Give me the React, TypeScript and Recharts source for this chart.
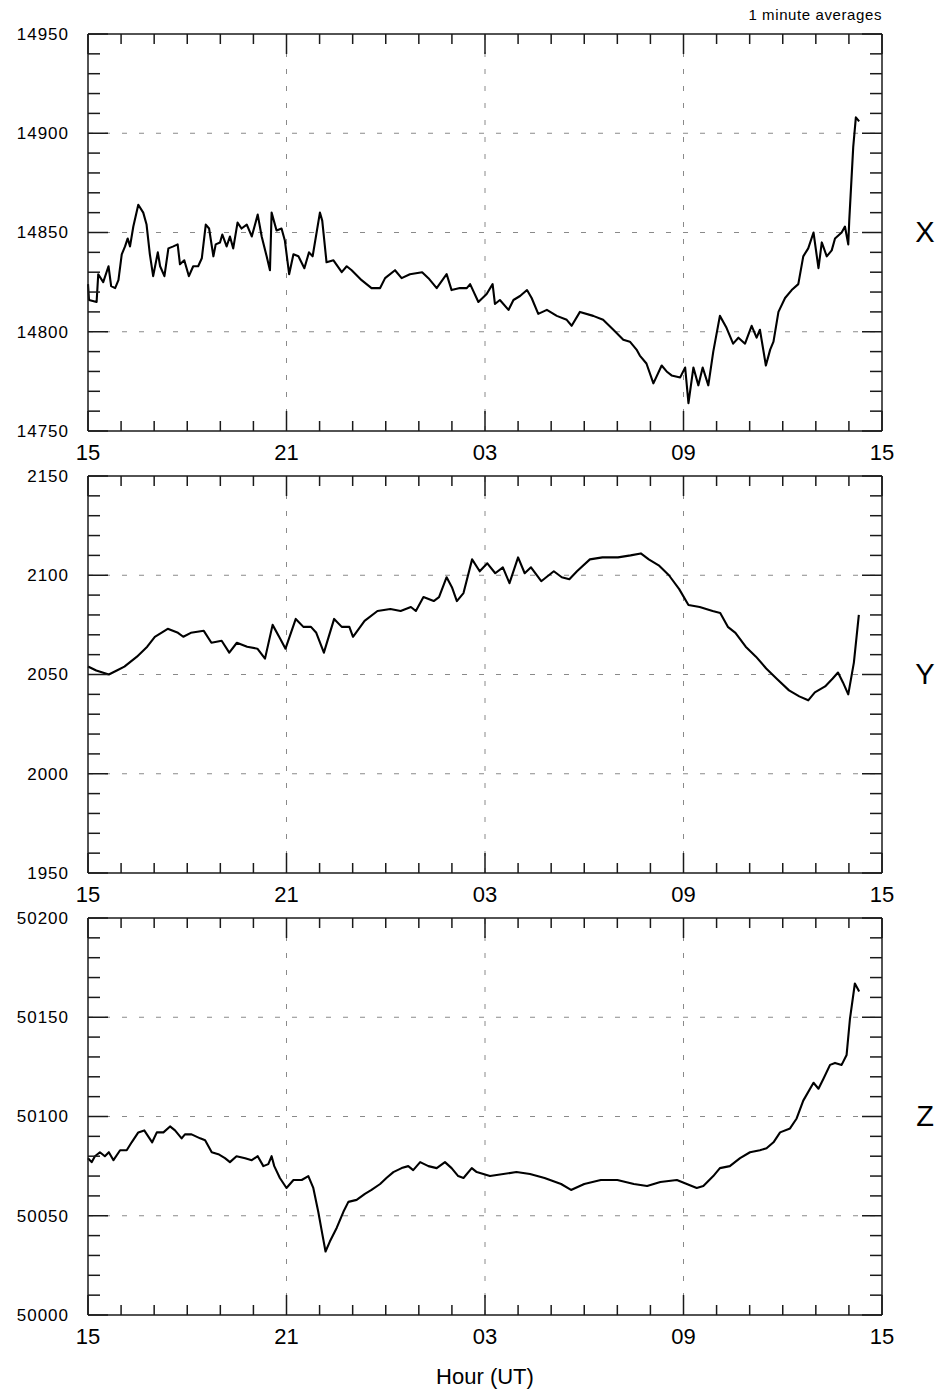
import { LineChart, Line, XAxis, YAxis, ReferenceLine } from 'recharts'

// [hour since 15 UT, nT]
const xTrace: [number, number][] = [
  [0, 14824], [0.03, 14816], [0.26, 14815], [0.31, 14829], [0.46, 14825], [0.62, 14833],
  [0.7, 14823], [0.82, 14822], [0.92, 14826], [1.02, 14839], [1.12, 14843], [1.2, 14847],
  [1.27, 14843], [1.37, 14853], [1.52, 14864], [1.67, 14860], [1.77, 14854], [1.87, 14839],
  [1.97, 14828], [2.11, 14840], [2.18, 14833], [2.31, 14828], [2.43, 14842], [2.58, 14843],
  [2.71, 14844], [2.78, 14834], [2.91, 14836], [3.05, 14828], [3.18, 14833], [3.33, 14833],
  [3.44, 14837], [3.56, 14854], [3.66, 14852], [3.79, 14838], [3.86, 14844], [3.99, 14845],
  [4.06, 14849], [4.19, 14843], [4.29, 14848], [4.39, 14842], [4.52, 14855], [4.64, 14852],
  [4.8, 14854], [4.95, 14848], [5.13, 14859], [5.25, 14848], [5.4, 14838], [5.5, 14831],
  [5.55, 14860], [5.7, 14851], [5.85, 14852], [5.95, 14846], [6.08, 14829], [6.21, 14839],
  [6.36, 14838], [6.54, 14832], [6.68, 14840], [6.79, 14838], [7.01, 14860], [7.08, 14856],
  [7.21, 14835], [7.42, 14836], [7.67, 14830], [7.82, 14833], [7.97, 14831], [8.27, 14826],
  [8.57, 14822], [8.83, 14822], [8.98, 14827], [9.28, 14831], [9.48, 14827], [9.73, 14829],
  [10.1, 14830], [10.29, 14827], [10.54, 14822], [10.84, 14829], [10.99, 14821], [11.24, 14822],
  [11.45, 14822], [11.55, 14824], [11.8, 14815], [12.05, 14819], [12.23, 14824], [12.3, 14814],
  [12.45, 14816], [12.71, 14811], [12.86, 14816], [13.06, 14818], [13.27, 14821], [13.41, 14817],
  [13.61, 14809], [13.87, 14811], [14.17, 14808], [14.47, 14806], [14.62, 14803], [14.87, 14810],
  [15.27, 14808], [15.57, 14806], [15.88, 14801], [16.18, 14796], [16.38, 14795], [16.58, 14791],
  [16.68, 14788], [16.88, 14784], [17.09, 14774], [17.34, 14783], [17.49, 14780], [17.64, 14778],
  [17.9, 14777], [18.05, 14782], [18.15, 14764], [18.3, 14782], [18.45, 14773], [18.58, 14782],
  [18.75, 14773], [18.9, 14790], [19.1, 14808], [19.3, 14802], [19.5, 14794], [19.66, 14797],
  [19.86, 14794], [20.06, 14803], [20.21, 14797], [20.31, 14801], [20.49, 14783], [20.62, 14791],
  [20.72, 14795], [20.87, 14810], [21.07, 14817], [21.27, 14821], [21.47, 14824], [21.62, 14838],
  [21.77, 14842], [21.93, 14850], [22.08, 14832], [22.18, 14845], [22.33, 14838], [22.48, 14841],
  [22.58, 14847], [22.78, 14850], [22.88, 14853], [22.98, 14844], [23.01, 14856], [23.13, 14893],
  [23.21, 14908], [23.31, 14906],
]

const yTrace: [number, number][] = [
  [0, 2054], [0.25, 2052], [0.63, 2050], [0.87, 2052], [1.1, 2054], [1.48, 2059], [1.79, 2064],
  [2.02, 2069], [2.41, 2073], [2.72, 2071], [2.88, 2069], [3.11, 2071], [3.5, 2072], [3.73, 2066],
  [4.04, 2067], [4.27, 2061], [4.5, 2066], [4.81, 2064], [5.12, 2063], [5.35, 2058], [5.58, 2075],
  [5.81, 2068], [5.97, 2063], [6.28, 2078], [6.51, 2074], [6.74, 2074], [6.9, 2071], [7.13, 2061],
  [7.44, 2078], [7.67, 2074], [7.9, 2074], [8.01, 2069], [8.36, 2077], [8.75, 2082], [9.14, 2083],
  [9.45, 2082], [9.76, 2084], [9.91, 2082], [10.14, 2089], [10.45, 2087], [10.61, 2089],
  [10.84, 2099], [11.0, 2094], [11.15, 2087], [11.35, 2091], [11.61, 2108], [11.84, 2102],
  [12.07, 2106], [12.31, 2101], [12.54, 2104], [12.74, 2096], [13.0, 2109], [13.2, 2101],
  [13.39, 2104], [13.7, 2097], [14.08, 2102], [14.32, 2099], [14.55, 2098], [14.78, 2102],
  [15.17, 2108], [15.55, 2109], [16.02, 2109], [16.4, 2110], [16.71, 2111], [16.95, 2108],
  [17.25, 2105], [17.56, 2100], [17.87, 2093], [18.15, 2085], [18.49, 2084], [18.88, 2082],
  [19.11, 2081], [19.34, 2074], [19.57, 2071], [19.88, 2064], [20.19, 2059], [20.5, 2053],
  [20.81, 2048], [21.19, 2042], [21.5, 2039], [21.77, 2037], [21.97, 2041], [22.28, 2044],
  [22.51, 2048], [22.67, 2051], [22.82, 2046], [22.98, 2040], [23.15, 2056], [23.3, 2080],
]

const zTrace: [number, number][] = [
  [0, 50079], [0.11, 50077], [0.21, 50080], [0.36, 50082], [0.51, 50080], [0.63, 50082],
  [0.77, 50078], [0.97, 50083], [1.17, 50083], [1.32, 50087], [1.52, 50092], [1.7, 50093],
  [1.82, 50090], [1.94, 50087], [2.08, 50092], [2.28, 50092], [2.48, 50095], [2.63, 50093],
  [2.83, 50089], [2.93, 50091], [3.13, 50091], [3.39, 50089], [3.54, 50088], [3.74, 50082],
  [3.94, 50081], [4.14, 50079], [4.29, 50077], [4.49, 50080], [4.75, 50079], [4.95, 50078],
  [5.13, 50080], [5.3, 50075], [5.45, 50076], [5.55, 50080], [5.63, 50075], [5.8, 50069],
  [6.0, 50064], [6.21, 50068], [6.46, 50068], [6.66, 50070], [6.81, 50064], [6.96, 50052],
  [7.08, 50041], [7.18, 50032], [7.31, 50037], [7.52, 50044], [7.72, 50052], [7.87, 50057],
  [8.12, 50058], [8.37, 50061], [8.57, 50063], [8.83, 50066], [9.02, 50069], [9.23, 50072],
  [9.48, 50074], [9.68, 50075], [9.83, 50073], [10.04, 50077], [10.29, 50075], [10.54, 50074],
  [10.79, 50077], [10.99, 50074], [11.19, 50070], [11.35, 50069], [11.6, 50074], [11.75, 50072],
  [11.95, 50071], [12.15, 50070], [12.95, 50072], [13.36, 50071], [13.8, 50069], [14.3, 50066],
  [14.6, 50063], [15.0, 50066], [15.5, 50068], [16.0, 50068], [16.5, 50066], [16.9, 50065],
  [17.3, 50067], [17.8, 50068], [18.1, 50066], [18.4, 50064], [18.6, 50065], [18.9, 50070],
  [19.1, 50074], [19.4, 50075], [19.71, 50079], [20.01, 50082], [20.31, 50083], [20.51, 50084],
  [20.72, 50087], [20.92, 50092], [21.22, 50094], [21.42, 50099], [21.62, 50108], [21.93, 50117],
  [22.08, 50114], [22.23, 50119], [22.43, 50126], [22.58, 50127], [22.78, 50126], [22.93, 50131],
  [23.03, 50149], [23.18, 50167], [23.31, 50163],
]

const majorHours = [0, 6, 12, 18, 24]
const hourLabels = ['15', '21', '03', '09', '15']
const hourTicks = Array.from({ length: 25 }, (_, i) => i)

const FONT = '"Liberation Sans", Arial, Helvetica, sans-serif'
const AXIS = '#1a1a1a'
const GRID = '#8a8a8a'

const makeXTick = (side: 'top' | 'bottom') => (props: any) => {
  const { x, y, payload } = props
  const major = majorHours.includes(payload.value)
  const len = major ? 20 : 10
  const dir = side === 'bottom' ? -1 : 1
  const idx = majorHours.indexOf(payload.value)
  return (
    <g>
      <line x1={x} y1={y} x2={x} y2={y + dir * len} stroke={AXIS} strokeWidth={1.5} />
      {side === 'bottom' && major && (
        <text x={x} y={y + 29} textAnchor="middle" fontSize={22} fontFamily={FONT} fill="#000">
          {hourLabels[idx]}
        </text>
      )}
    </g>
  )
}

const makeYTick = (side: 'left' | 'right') => (props: any) => {
  const { x, y, payload } = props
  const major = payload.value % 50 === 0
  const len = major ? 20 : 12
  const dir = side === 'left' ? 1 : -1
  return (
    <g>
      <line x1={x} y1={y} x2={x + dir * len} y2={y} stroke={AXIS} strokeWidth={1.5} />
      {side === 'left' && major && (
        <text x={x - 19} y={y} dy="0.35em" textAnchor="end" fontSize={17} letterSpacing={1} fontFamily={FONT} fill="#000">
          {payload.value}
        </text>
      )}
    </g>
  )
}

const BottomTick = makeXTick('bottom')
const TopTick = makeXTick('top')
const LeftTick = makeYTick('left')
const RightTick = makeYTick('right')

type PanelProps = { trace: [number, number][]; lo: number; top: number; name: string }

const Panel = ({ trace, lo, top, name }: PanelProps) => {
  const data = trace.map(([h, v]) => ({ h, v }))
  const yTicks = Array.from({ length: 21 }, (_, i) => lo + i * 10)
  const hi = lo + 200
  return (
    <div style={{ position: 'absolute', left: 0, top: top - 20 }}>
      <LineChart width={940} height={457} data={data} margin={{ top: 10, right: 8, bottom: 0, left: 8 }}>
        <XAxis
          xAxisId="b"
          dataKey="h"
          type="number"
          domain={[0, 24]}
          ticks={hourTicks}
          interval={0}
          height={40}
          tickSize={0}
          tickMargin={0}
          tickLine={false}
          axisLine={{ stroke: AXIS, strokeWidth: 1.5 }}
          tick={BottomTick}
        />
        <XAxis
          xAxisId="t"
          orientation="top"
          dataKey="h"
          type="number"
          domain={[0, 24]}
          ticks={hourTicks}
          interval={0}
          height={10}
          tickSize={0}
          tickMargin={0}
          tickLine={false}
          axisLine={{ stroke: AXIS, strokeWidth: 1.5 }}
          tick={TopTick}
        />
        <YAxis
          yAxisId="l"
          domain={[lo, hi]}
          ticks={yTicks}
          interval={0}
          width={80}
          tickSize={0}
          tickMargin={0}
          tickLine={false}
          axisLine={{ stroke: AXIS, strokeWidth: 1.5 }}
          tick={LeftTick}
          allowDataOverflow
        />
        <YAxis
          yAxisId="r"
          orientation="right"
          domain={[lo, hi]}
          ticks={yTicks}
          interval={0}
          width={50}
          tickSize={0}
          tickMargin={0}
          tickLine={false}
          axisLine={{ stroke: AXIS, strokeWidth: 1.5 }}
          tick={RightTick}
          allowDataOverflow
        />
        {[6, 12, 18].map((h) => (
          <ReferenceLine key={'v' + h} xAxisId="b" yAxisId="l" x={h} stroke={GRID} strokeDasharray="5 12" strokeWidth={1} />
        ))}
        {[50, 100, 150].map((d) => (
          <ReferenceLine key={'h' + d} xAxisId="b" yAxisId="l" y={lo + d} stroke={GRID} strokeDasharray="5 12" strokeWidth={1} />
        ))}
        <Line
          xAxisId="b"
          yAxisId="l"
          dataKey="v"
          type="linear"
          stroke="#000"
          strokeWidth={2.1}
          strokeLinejoin="round"
          dot={false}
          isAnimationActive={false}
        />
      </LineChart>
      <div
        style={{
          position: 'absolute',
          left: 905,
          top: 20 + 198 - 17,
          width: 40,
          textAlign: 'center',
          fontFamily: FONT,
          fontSize: 29,
          lineHeight: '34px',
        }}
      >
        {name}
      </div>
    </div>
  )
}

export default function App() {
  return (
    <div style={{ position: 'absolute', left: 0, top: 0, width: 940, height: 1393, background: '#fff' }}>
      <div
        style={{
          position: 'absolute',
          right: 58,
          top: 5,
          fontFamily: FONT,
          fontSize: 15,
          letterSpacing: 0.6,
          lineHeight: '20px',
        }}
      >
        1 minute averages
      </div>
      <Panel trace={xTrace} lo={14750} top={34} name="X" />
      <Panel trace={yTrace} lo={1950} top={476} name="Y" />
      <Panel trace={zTrace} lo={50000} top={918} name="Z" />
      <div
        style={{
          position: 'absolute',
          left: 385,
          width: 200,
          top: 1364,
          textAlign: 'center',
          fontFamily: FONT,
          fontSize: 22,
          lineHeight: '26px',
        }}
      >
        Hour (UT)
      </div>
    </div>
  )
}
